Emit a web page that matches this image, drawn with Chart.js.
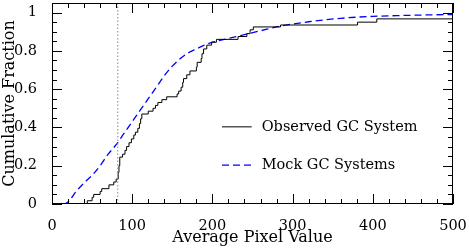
<!DOCTYPE html>
<html>
<head>
<meta charset="utf-8">
<script src="https://cdn.jsdelivr.net/npm/chart.js@4.4.1/dist/chart.umd.min.js"></script>
<style>
  html, body { margin: 0; padding: 0; background: #fff; }
  #wrap { width: 469px; height: 248px; position: relative; }
</style>
</head>
<body>
<div id="wrap"><canvas id="cdf"></canvas></div>
<script>
// observed GC system: step CDF (x where the step happens, new fraction)
const obsX = [0, 44, 50, 52, 60, 62, 71, 77, 80, 82.5, 83.5, 84.5, 88, 91, 93, 96, 99, 102, 104, 107,
  109, 110.5, 112, 120, 126, 129, 132, 137, 143, 156, 158, 161, 163, 164, 168, 172, 180, 181, 186,
  187, 189, 193, 199, 205, 232, 243, 247, 251, 285, 381, 405, 500]
const obsY = [0, 0.017, 0.035, 0.05, 0.065, 0.08, 0.1, 0.115, 0.13, 0.165, 0.2, 0.245, 0.26, 0.28, 0.3,
  0.32, 0.34, 0.36, 0.375, 0.395, 0.42, 0.445, 0.47, 0.485, 0.5, 0.515, 0.53, 0.545, 0.56, 0.575,
  0.59, 0.61, 0.635, 0.655, 0.675, 0.695, 0.715, 0.74, 0.76, 0.785, 0.81, 0.83, 0.845, 0.86, 0.875,
  0.89, 0.91, 0.925, 0.935, 0.95, 0.967, 0.967]

// mock GC systems: smooth CDF
const mockX = [0, 15, 20, 30, 40, 50, 60, 70, 80, 90, 100, 110, 120, 130, 140, 150, 160, 170, 180, 190,
  200, 220, 240, 260, 280, 300, 320, 340, 360, 380, 400, 430, 460, 500]
const mockY = [0, 0, 0.01, 0.065, 0.11, 0.15, 0.2, 0.26, 0.31, 0.37, 0.43, 0.49, 0.55, 0.61, 0.67, 0.72,
  0.76, 0.79, 0.81, 0.83, 0.845, 0.865, 0.885, 0.905, 0.925, 0.94, 0.952, 0.962, 0.97, 0.976, 0.98,
  0.984, 0.987, 0.99]

const cutX = 82
const xTicks = [0, 100, 200, 300, 400, 500]
const yTicks = [0, 0.2, 0.4, 0.6, 0.8, 1]
const yTickLabels = ['0', '0.2', '0.4', '0.6', '0.8', '1']
const xMinorStep = 20
const yMinorStep = 0.05

const legendItems = [
  { label: 'Observed GC System', y: 0.403, color: '#000', dash: [] },
  { label: 'Mock GC Systems', y: 0.203, color: '#0000ff', dash: [7, 4] }
]

const FONT = '"DejaVu Serif", serif'

// frame with inward ticks on all four sides + in-plot legend
const frameTicks = {
  id: 'frameTicks',
  afterDatasetsDraw(chart) {
    const { ctx, chartArea: a, scales: { x, y } } = chart
    ctx.save()
    ctx.strokeStyle = '#000'
    ctx.lineWidth = 1
    ctx.setLineDash([])
    ctx.strokeRect(a.left + 0.5, a.top + 0.5, a.right - a.left - 1, a.bottom - a.top - 1)
    ctx.beginPath()
    for (let v = 0; v <= x.max + 1e-9; v += xMinorStep) {
      const major = xTicks.includes(Math.round(v))
      const len = major ? 10 : 5
      const px = Math.round(x.getPixelForValue(v)) + 0.5
      ctx.moveTo(px, a.bottom); ctx.lineTo(px, a.bottom - len)
      ctx.moveTo(px, a.top); ctx.lineTo(px, a.top + len)
    }
    for (let v = 0; v <= y.max + 1e-9; v += yMinorStep) {
      const r = Math.round(v * 100) / 100
      const major = yTicks.includes(r)
      const len = major ? 10 : 5
      const py = Math.round(y.getPixelForValue(r)) + 0.5
      ctx.moveTo(a.left, py); ctx.lineTo(a.left + len, py)
      ctx.moveTo(a.right, py); ctx.lineTo(a.right - len, py)
    }
    ctx.stroke()

    // legend
    ctx.font = '14.5px ' + FONT
    ctx.textBaseline = 'middle'
    ctx.fillStyle = '#000'
    legendItems.forEach(it => {
      const py = y.getPixelForValue(it.y)
      ctx.beginPath()
      ctx.strokeStyle = it.color
      ctx.lineWidth = it.dash.length ? 1.3 : 1
      ctx.setLineDash(it.dash)
      ctx.moveTo(x.getPixelForValue(212), py)
      ctx.lineTo(x.getPixelForValue(249), py)
      ctx.stroke()
      ctx.fillText(it.label, x.getPixelForValue(261.5), py)
    })
    ctx.restore()
  }
}

new Chart(document.getElementById('cdf'), {
  type: 'line',
  data: {
    datasets: [
      {
        label: 'cut',
        data: [{ x: cutX, y: 0 }, { x: cutX, y: 1.05 }],
        borderColor: '#888',
        borderWidth: 1,
        borderDash: [1.5, 2],
        pointRadius: 0
      },
      {
        label: 'Observed GC System',
        data: obsX.map((v, i) => ({ x: v, y: obsY[i] })),
        borderColor: '#000',
        borderWidth: 1,
        stepped: 'before',
        pointRadius: 0
      },
      {
        label: 'Mock GC Systems',
        data: mockX.map((v, i) => ({ x: v, y: mockY[i] })),
        borderColor: '#0000ff',
        borderWidth: 1.3,
        borderDash: [7, 4],
        cubicInterpolationMode: 'monotone',
        pointRadius: 0
      }
    ]
  },
  options: {
    responsive: true,
    maintainAspectRatio: false,
    animation: false,
    layout: { padding: { left: 0, right: 16, top: 3, bottom: 0 } },
    plugins: { legend: { display: false }, tooltip: { enabled: false } },
    scales: {
      x: {
        type: 'linear',
        min: 0,
        max: 500,
        grid: { display: false },
        border: { display: false },
        afterBuildTicks: s => { s.ticks = xTicks.map(v => ({ value: v })) },
        afterFit: s => { s.height = 44; s.paddingLeft = 0; s.paddingRight = 0 },
        ticks: { color: '#000', font: { family: FONT, size: 14.5 }, padding: 6, maxRotation: 0 },
        title: { display: true, text: 'Average Pixel Value', color: '#000',
          font: { family: FONT, size: 16 }, padding: { top: 0, bottom: 1 } }
      },
      y: {
        type: 'linear',
        min: 0,
        max: 1.05,
        grid: { display: false },
        border: { display: false },
        afterBuildTicks: s => { s.ticks = yTicks.map(v => ({ value: v })) },
        afterFit: s => { s.width = 52; s.paddingTop = 0; s.paddingBottom = 0 },
        ticks: {
          color: '#000', font: { family: FONT, size: 14.5 }, padding: 7,
          callback: (v, i) => yTickLabels[i]
        },
        title: { display: true, text: 'Cumulative Fraction', color: '#000',
          font: { family: FONT, size: 16 }, padding: { top: 0, bottom: 0 } }
      }
    }
  },
  plugins: [frameTicks]
})
</script>
</body>
</html>
